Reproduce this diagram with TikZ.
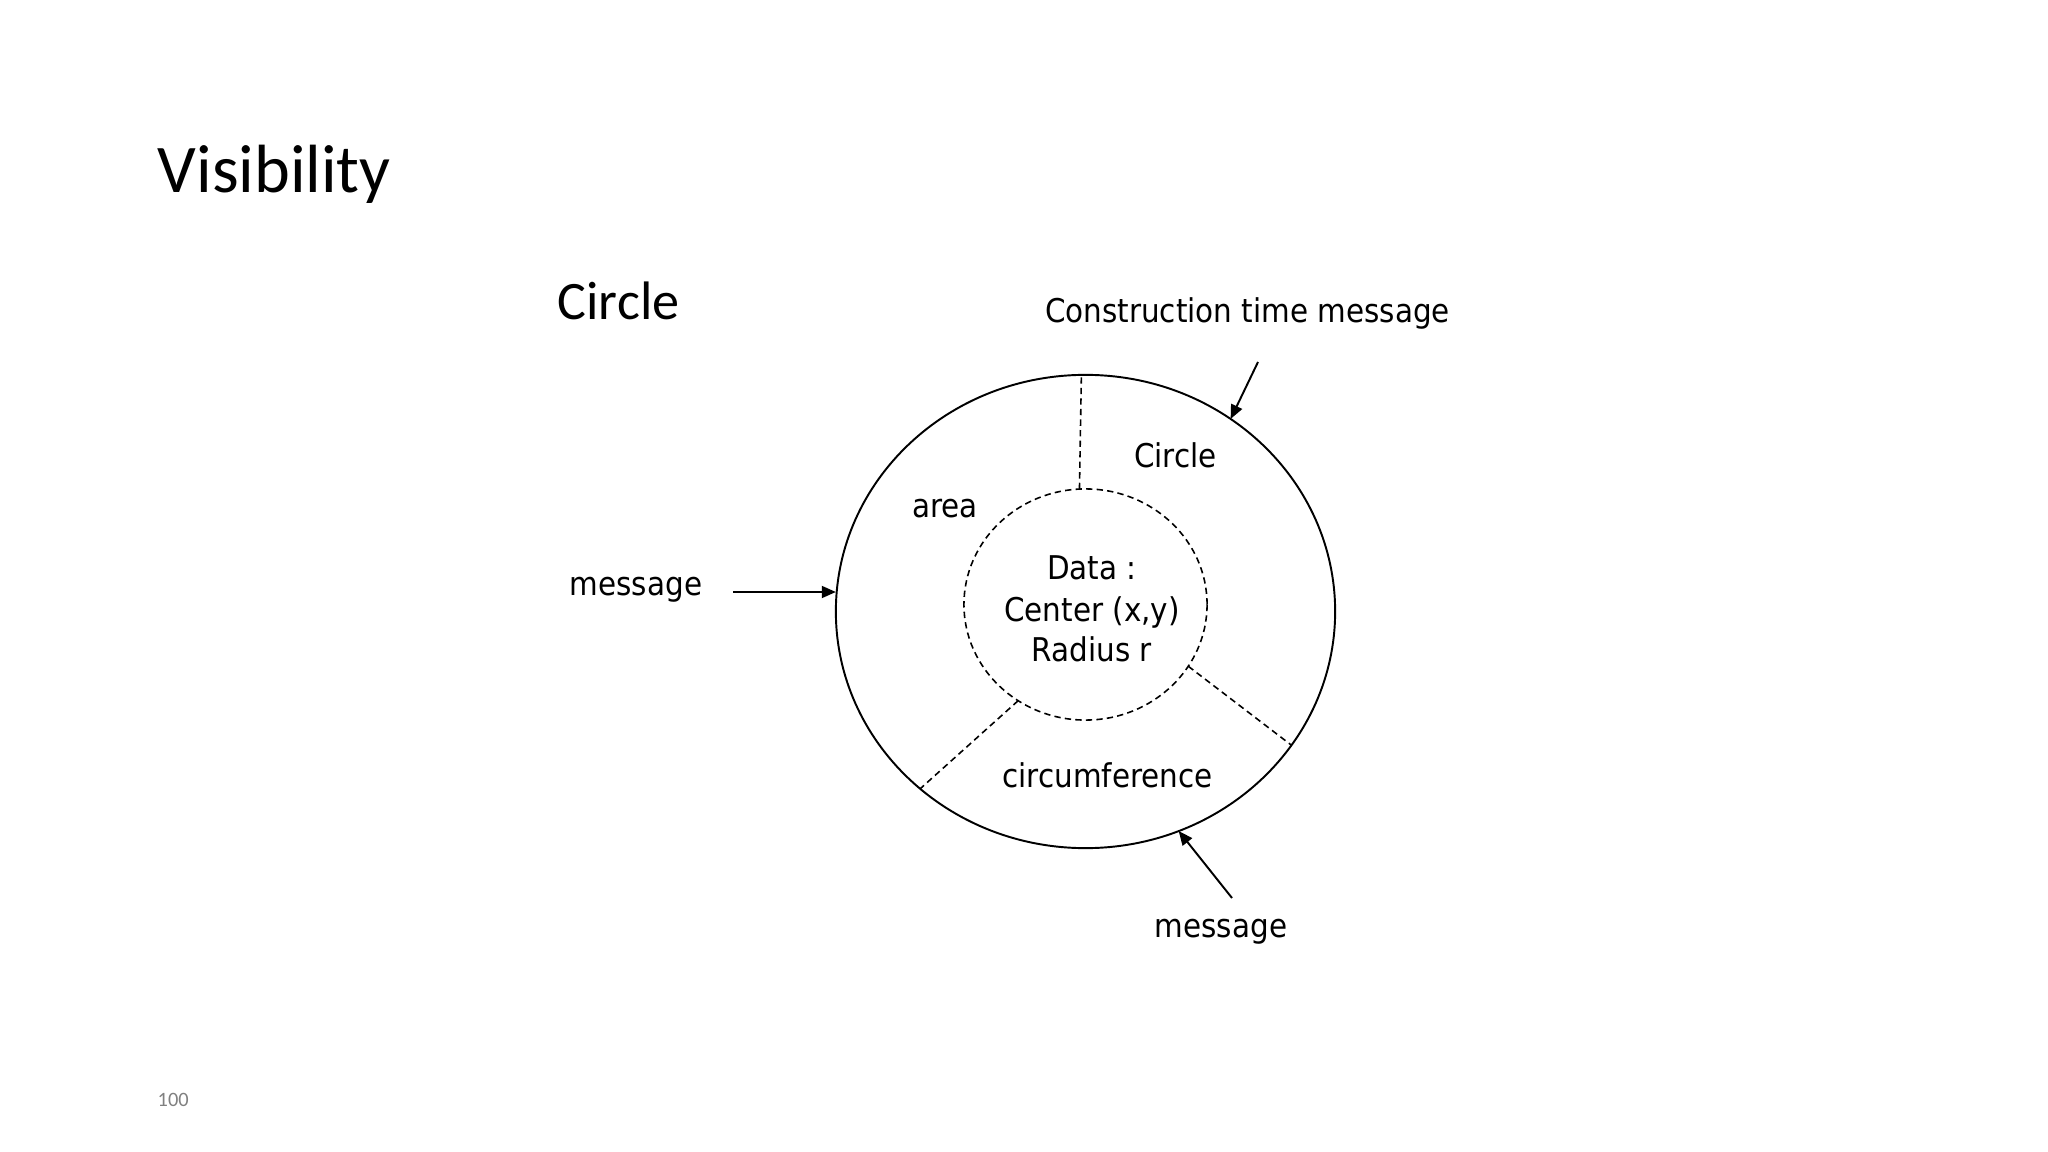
\documentclass[tikz,border=0pt]{standalone}
\usepackage{fontspec}
\setmainfont{Carlito}
\newfontfamily\tahoma{DejaVu Sans Condensed}
\usetikzlibrary{shapes.geometric,arrows.meta}

\begin{document}
\begin{tikzpicture}[x=0.01cm, y=-0.01cm,
	word/.style={inner sep=0pt, anchor=base, font=\tahoma\fontsize{9.3}{11.2}\selectfont},
	ring/.style={draw, ellipse, inner sep=0pt, outer sep=0pt, line width=0.55pt},
	divider/.style={line width=0.45pt, dash pattern=on 1.8pt off 1.2pt},
	msgarrow/.style={line width=0.55pt, -{Triangle[length=4pt,width=3.4pt]}}]

	\useasboundingbox (0,0) rectangle (2048,1152);

	% slide title, page number and class name
	\node[anchor=base west, inner sep=0pt, font=\fontsize{19.4}{23}\selectfont] (title) at (157,193) {Visibility};
	\node[anchor=base west, inner sep=0pt, text=gray, font=\fontsize{5.8}{7}\selectfont] (pagenum) at (157,1106) {100};
	\node[anchor=base west, inner sep=0pt, font=\fontsize{15.4}{18.5}\selectfont] (classname) at (557,320) {Circle};

	% the object and its hidden data
	\node[ring, minimum width=4.99cm, minimum height=4.73cm] (outer) at (1085.5,611.5) {};
	\node[ring, divider, minimum width=2.43cm, minimum height=2.31cm] (core) at (1085.5,604.5) {};

	\draw[divider] (core.93) -- (outer.91.6);
	\draw[divider] (core.235.5) -- (outer.227.3);
	\draw[divider] (core.329) -- (outer.327.8);

	\node[word] (dataA) at (1092,580) {Data :};
	\node[word] (dataB) at (1092,621) {Center (x,y)};
	\node[word] (dataC) at (1092,661) {Radius r};

	\node[word] (objname) at (1175.5,468) {Circle};
	\node[word] (area) at (945,518) {area};
	\node[word] (circum) at (1107.5,787) {circumference};

	% messages
	\node[word] (ctorlabel) at (1247.5,323) {Construction time message};
	\node[word] (msgleft) at (636,596) {message};
	\node[word] (msgbottom) at (1221,937) {message};

	\coordinate (ctortail) at (1258,362);
	\coordinate (msglefttail) at (733,592);
	\coordinate (msgbottomtail) at (1232,898);

	\draw[msgarrow] (ctortail) -- (outer.53.5);
	\draw[msgarrow] (msglefttail) -- (msglefttail -| outer.west);
	\draw[msgarrow] (msgbottomtail) -- (outer.293.4);

\end{tikzpicture}
\end{document}
